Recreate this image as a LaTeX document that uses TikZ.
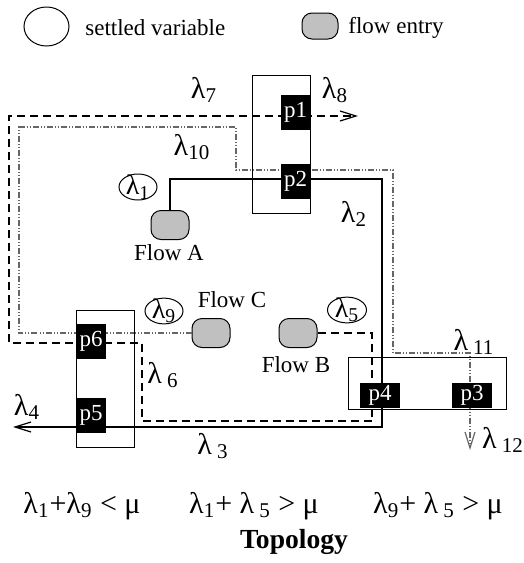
\documentclass[tikz,border=0pt]{standalone}
\usepackage{fontspec}
\setmainfont{Liberation Serif}
\usetikzlibrary{arrows.meta, positioning, shapes.geometric}
\definecolor{entryc}{HTML}{C0C0C0}
\definecolor{dotc}{HTML}{666666}
\tikzset{
  settled/.style={draw=black, ellipse, line width=0.5pt, inner sep=-1.5pt,
                  font=\fontsize{14}{16}\selectfont},
  entry/.style={draw=black, fill=entryc, rounded corners=5pt, line width=0.5pt,
                minimum width=19pt, minimum height=14.5pt, inner sep=0pt},
  port/.style={fill=black, text=white, inner sep=0pt, minimum width=14.5pt, minimum height=17.5pt},
  wport/.style={port, minimum width=20pt, minimum height=12.5pt},
  frame/.style={draw=black, line width=0.5pt},
  lbl/.style={inner sep=0pt},
  lam/.style={inner sep=0pt, font=\fontsize{15}{17}\selectfont},
  tip/.style={-{Straight Barb[length=8pt, width=5pt, line width=0.6pt]}},
  solidr/.style={tip, line width=1pt},
  dashr/.style={tip, line width=1pt, dash pattern=on 4pt off 2.5pt},
  dotr/.style={tip, draw=dotc, line width=0.6pt,
               dash pattern=on 3pt off 1pt on 0.5pt off 1pt on 0.5pt off 1pt},
}
\newcommand{\lam}[1]{λ\textsubscript{#1}}
\newcommand{\lamsp}[1]{λ\,\textsubscript{#1}}

\begin{document}
\begin{tikzpicture}[x=0.5pt, y=-0.5pt, font=\fontsize{11.5}{13}\selectfont]
\useasboundingbox (0,0) rectangle (524,563);
% legend
\node[settled, minimum width=22.5pt, minimum height=19.5pt] (lgset) at (46.5,26.5) {};
\node[lbl, anchor=west] (lgsettxt) at (85,28) {settled variable};
\node[entry, minimum width=18pt, minimum height=13pt] (lgent) at (320,26) {};
\node[lbl, anchor=west] (lgenttxt) at (348,28) {flow entry};
% flow entries and settled variables
\node[entry] (fa) at (170,225) {};
\node[lbl] (fatxt) at (169,253) {Flow A};
\node[entry] (fb) at (298,333) {};
\node[lbl] (fbtxt) at (296,365) {Flow B};
\node[entry] (fc) at (211,333) {};
\node[lbl] (fctxt) at (232,300) {Flow C};
\node[settled, minimum width=19pt, minimum height=13pt] (s1) at (138,187) {\lam{1}};
\node[settled, minimum width=19pt, minimum height=12pt] (s9) at (164,311) {\lam{9}};
\node[settled, minimum width=19.5pt, minimum height=12pt] (s5) at (347,310) {\lam{5}};
% the three routes
\coordinate (end4) at (13,427);
\coordinate (end8) at (358,116);
\coordinate (end12) at (470,450);
\draw[solidr] (fa.north) |- (382,179) |- (end4);
\draw[dashr] (fb.east) -| (372,421) -| (142,343) -| (9,116) -- (end8);
\draw[dotr] (fc.west) -| (19,127) -| (236,170) -| (393,353) -| (end12);
% switches
\draw[frame] (252,75) rectangle (310,213);
\draw[frame] (76,310) rectangle (134,447);
\draw[frame] (348,357) rectangle (506,409);
\node[port] (p1) at (295.5,112.5) {p1};
\node[port] (p2) at (295.5,181) {p2};
\node[port] (p6) at (91,341.5) {p6};
\node[port] (p5) at (91,415) {p5};
\node[wport] (p4) at (380,395.5) {p4};
\node[wport] (p3) at (472,395.5) {p3};
% rate labels
\node[lam] (l7) at (204,90) {\lam{7}};
\node[lam] (l8) at (335,90) {\lam{8}};
\node[lam] (l10) at (192,147) {\lam{10}};
\node[lam] (l2) at (354,214) {\lam{2}};
\node[lam] (l6) at (163,375) {\lamsp{6}};
\node[lam] (l4) at (27,407) {\lam{4}};
\node[lam] (l3) at (213,446) {\lamsp{3}};
\node[lam] (l11) at (474,342) {\lamsp{11}};
\node[lam] (l12) at (503,440) {\lamsp{12}};
% conditions
\node[lam] (c1) at (82,506) {\lam{1}+\lam{9} < μ};
\node[lam] (c2) at (254,506) {\lam{1}+ \lamsp{5} > μ};
\node[lam] (c3) at (438,506) {\lam{9}+ \lamsp{5} > μ};
\node[lbl, font=\fontsize{13.8}{15}\selectfont\bfseries] (ttl) at (294,542) {Topology};
\end{tikzpicture}
\end{document}
